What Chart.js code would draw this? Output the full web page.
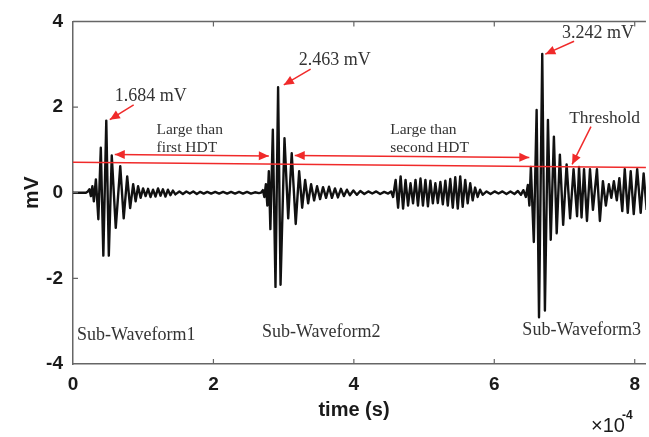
<!DOCTYPE html>
<html><head><meta charset="utf-8">
<script src="https://cdn.jsdelivr.net/npm/chart.js@4.4.1/dist/chart.umd.min.js"></script>
<style>html,body{margin:0;padding:0;background:#fff}#wrap{width:649px;height:437px}</style>
</head><body><div id="wrap"><canvas id="c" width="649" height="437"></canvas></div>
<script>
// time in units of 1e-4 s
const timeE4 = [
0, 0.099, 0.184,
0.212, 0.234, 0.255, 0.276, 0.297, 0.326, 0.361, 0.396, 0.432, 0.474, 0.510, 0.552, 0.609, 0.673, 0.722, 0.772, 0.814, 0.857, 0.892, 0.927, 0.963,
0.998, 1.034, 1.069, 1.104, 1.140, 1.175, 1.211, 1.246, 1.281, 1.317, 1.352, 1.388, 1.423, 1.458,
1.515, 1.565, 1.614, 1.664, 1.713, 1.763, 1.812, 1.862, 1.912, 1.968, 2.025, 2.081, 2.138, 2.195, 2.251, 2.308, 2.365, 2.421, 2.478, 2.535, 2.591, 2.648,
2.676, 2.704, 2.726, 2.747, 2.768, 2.789, 2.811, 2.846, 2.884, 2.921, 2.956, 3.012, 3.065, 3.115, 3.172, 3.221, 3.264, 3.306, 3.349, 3.391,
3.434, 3.476, 3.519, 3.561, 3.604, 3.646, 3.688, 3.731, 3.773, 3.816, 3.858, 3.901, 3.943, 3.993, 4.042, 4.092,
4.149, 4.205, 4.262, 4.319, 4.375, 4.432, 4.488, 4.531,
4.559, 4.595, 4.630, 4.666, 4.701, 4.736, 4.772, 4.807, 4.843, 4.878, 4.913, 4.949, 4.984, 5.019, 5.055, 5.090, 5.125, 5.161, 5.196, 5.232,
5.267, 5.303, 5.338, 5.373, 5.409, 5.444, 5.480, 5.515, 5.550, 5.586, 5.621, 5.657, 5.692, 5.727, 5.763, 5.798, 5.834,
5.890, 5.947, 6.004, 6.060, 6.117, 6.173, 6.230, 6.287, 6.336, 6.379, 6.414,
6.450, 6.478, 6.500, 6.521, 6.563, 6.603, 6.637, 6.683, 6.721, 6.764, 6.804, 6.849, 6.889, 6.934, 6.981, 7.030, 7.080, 7.129, 7.179,
7.207, 7.243, 7.278, 7.320, 7.363, 7.405, 7.462, 7.504, 7.547, 7.589, 7.632, 7.667, 7.703, 7.745, 7.781, 7.823, 7.858, 7.901, 7.943, 7.986,
8.035, 8.085, 8.127, 8.170
];
// signal in mV
const voltage = [
0, 0, 0,
0.03, 0.08, -0.08, 0.15, -0.2, 0.31, -0.62, 1.05, -1.47, 1.684, -1.47, 0.87, -0.82, 0.62, -0.6, 0.38, -0.36, 0.2, -0.2, 0.15, -0.12,
0.1, -0.08, 0.09, -0.1, 0.07, -0.09, 0.1, -0.07, 0.08, -0.09, 0.07, -0.06, 0.05, -0.04,
0.03, -0.03, 0.03, -0.02, 0.03, -0.03, 0.02, -0.02, 0.02, -0.02, 0.02, -0.02, 0.02, -0.02, 0.02, -0.02, 0.02, -0.02, 0.02, -0.02, 0.01, -0.01,
0, 0.06, -0.1, 0.2, -0.3, 0.5, -0.85, 1.47, -2.2, 2.463, -2.15, 1.27, -0.6, 0.92, -0.73, 0.5, -0.35, 0.3, -0.25, 0.2,
-0.18, 0.15, -0.15, 0.13, -0.12, 0.14, -0.12, 0.1, -0.11, 0.09, -0.08, 0.07, -0.06, 0.05, -0.05, 0.04,
-0.03, 0.03, -0.02, 0.03, -0.03, 0.02, -0.02, 0.03,
-0.1, 0.3, -0.35, 0.38, -0.37, 0.3, -0.3, 0.22, -0.25, 0.3, -0.3, 0.33, -0.3, 0.3, -0.32, 0.28, -0.25, 0.22, -0.24, 0.25,
-0.27, 0.28, -0.3, 0.32, -0.35, 0.36, -0.37, 0.38, -0.33, 0.3, -0.25, 0.22, -0.18, 0.12, -0.1, 0.07, -0.05,
0.03, -0.03, 0.03, -0.02, 0.03, -0.03, 0.03, -0.03, 0.04, -0.05, 0.06,
-0.1, 0.18, -0.3, 0.6, -1.15, 1.93, -2.91, 3.242, -2.75, 1.70, -1.1, 1.31, -0.95, 0.89, -0.75, 0.66, -0.6, 0.55, -0.55,
0.6, -0.58, 0.55, -0.66, 0.55, -0.4, 0.55, -0.66, 0.27, -0.3, 0.2, -0.12, 0.27, -0.18, 0.34, -0.43, 0.55, -0.47, 0.5, -0.5,
0.55, -0.47, 0.45, -0.4
];
const thresholdTime = [0, 8.16];
const thresholdLevel = [0.71, 0.59];
const xTicks = [0, 2, 4, 6, 8];
const yTicks = [-4, -2, 0, 2, 4];
const peakLabels = ['1.684 mV', '2.463 mV', '3.242 mV'];
const subLabels = ['Sub-Waveform1', 'Sub-Waveform2', 'Sub-Waveform3'];
const rangeLabels = [['Large than', 'first HDT'], ['Large than', 'second HDT']];
const thresholdLabel = 'Threshold';

// placement of annotations (data coordinates)
const RED = '#f02a2a';
const SERIF = '"Liberation Serif","Times New Roman",serif';
const SANS = '"Liberation Sans",Arial,sans-serif';
const textPlacement = [
  {t: peakLabels[0], x: 0.595, y: 2.261, size: 18},
  {t: peakLabels[1], x: 3.214, y: 3.096, size: 18},
  {t: peakLabels[2], x: 6.966, y: 3.722, size: 18},
  {t: rangeLabels[0][0], x: 1.189, y: 1.472, size: 15.5},
  {t: rangeLabels[0][1], x: 1.189, y: 1.055, size: 15.5},
  {t: rangeLabels[1][0], x: 4.517, y: 1.472, size: 15.5},
  {t: rangeLabels[1][1], x: 4.517, y: 1.055, size: 15.5},
  {t: thresholdLabel, x: 7.066, y: 1.725, size: 17.5},
  {t: subLabels[0], x: 0.057, y: -3.328, size: 18},
  {t: subLabels[1], x: 2.690, y: -3.258, size: 18},
  {t: subLabels[2], x: 6.400, y: -3.212, size: 18}
];
const arrowPlacement = [
  {x1: 0.864, y1: 2.052, x2: 0.524, y2: 1.704, both: false},
  {x1: 3.384, y1: 2.887, x2: 3.002, y2: 2.516, both: false},
  {x1: 7.136, y1: 3.536, x2: 6.726, y2: 3.235, both: false},
  {x1: 7.377, y1: 1.542, x2: 7.108, y2: 0.661, both: false},
  {x1: 0.595, y1: 0.893, x2: 2.789, y2: 0.858, both: true},
  {x1: 3.158, y1: 0.870, x2: 6.499, y2: 0.823, both: true}
];

function head(ctx, xa, ya, xb, yb) {
  const ang = Math.atan2(yb - ya, xb - xa);
  const L = 10, W = 4.5;
  ctx.beginPath();
  ctx.moveTo(xb, yb);
  ctx.lineTo(xb - L * Math.cos(ang) + W * Math.sin(ang), yb - L * Math.sin(ang) - W * Math.cos(ang));
  ctx.lineTo(xb - L * Math.cos(ang) - W * Math.sin(ang), yb - L * Math.sin(ang) + W * Math.cos(ang));
  ctx.closePath();
  ctx.fill();
}

const annot = {
  id: 'annot',
  afterDatasetsDraw(chart) {
    const {ctx, chartArea: a} = chart;
    const xs = chart.scales.x, ys = chart.scales.y;
    const X = v => xs.getPixelForValue(v), Y = v => ys.getPixelForValue(v);
    ctx.save();
    // top frame line and inward ticks
    ctx.strokeStyle = '#666'; ctx.lineWidth = 1.5;
    ctx.beginPath(); ctx.moveTo(a.left, a.top); ctx.lineTo(a.right, a.top); ctx.stroke();
    ctx.lineWidth = 1.2;
    ctx.beginPath();
    xTicks.slice(1).forEach(v => {
      const px = X(v);
      ctx.moveTo(px, a.bottom); ctx.lineTo(px, a.bottom - 5);
      ctx.moveTo(px, a.top); ctx.lineTo(px, a.top + 5);
    });
    yTicks.slice(1, -1).forEach(v => {
      const py = Y(v);
      ctx.moveTo(a.left, py); ctx.lineTo(a.left + 5, py);
    });
    ctx.stroke();
    // arrows
    ctx.strokeStyle = RED; ctx.fillStyle = RED; ctx.lineWidth = 1.5;
    arrowPlacement.forEach(ar => {
      const x1 = X(ar.x1), y1 = Y(ar.y1), x2 = X(ar.x2), y2 = Y(ar.y2);
      ctx.beginPath(); ctx.moveTo(x1, y1); ctx.lineTo(x2, y2); ctx.stroke();
      head(ctx, x1, y1, x2, y2);
      if (ar.both) head(ctx, x2, y2, x1, y1);
    });
    // texts
    ctx.fillStyle = '#333';
    ctx.textBaseline = 'middle'; ctx.textAlign = 'left';
    textPlacement.forEach(tp => {
      ctx.font = tp.size + 'px ' + SERIF;
      ctx.fillText(tp.t, X(tp.x), Y(tp.y));
    });
    // axis titles
    ctx.fillStyle = '#1a1a1a';
    ctx.font = 'bold 20px ' + SANS;
    ctx.textAlign = 'center';
    ctx.fillText('time (s)', 354, 410);
    ctx.save();
    ctx.translate(32, Y(0)); ctx.rotate(-Math.PI / 2);
    ctx.font = 'bold 21px ' + SANS;
    ctx.fillText('mV', 0, 0);
    ctx.restore();
    ctx.textAlign = 'left';
    ctx.font = '20px ' + SANS;
    ctx.fillText('\u00d710', 591, 426);
    ctx.font = 'bold 12px ' + SANS;
    ctx.fillText('-4', 622, 416);
    ctx.restore();
  }
};

new Chart(document.getElementById('c'), {
  type: 'scatter',
  data: {
    datasets: [
      {label: 'Threshold', data: thresholdTime.map((t, i) => ({x: t, y: thresholdLevel[i]})), showLine: true,
       borderColor: RED, borderWidth: 1.5, pointRadius: 0},
      {label: 'Waveform', data: timeE4.map((t, i) => ({x: t, y: voltage[i]})), showLine: true,
       borderColor: '#111', borderWidth: 2.4, pointRadius: 0, borderJoinStyle: 'round', tension: 0}
    ]
  },
  options: {
    responsive: false, animation: false, devicePixelRatio: 1,
    layout: {padding: {top: 19, right: 0, left: 0, bottom: 0}},
    plugins: {legend: {display: false}, tooltip: {enabled: false}},
    scales: {
      x: {
        type: 'linear', min: 0, max: 8.16,
        afterFit(s) { s.height = 73; },
        afterBuildTicks(s) { s.ticks = xTicks.map(v => ({value: v})); },
        ticks: {font: {family: SANS, size: 19, weight: 'bold'}, color: '#1a1a1a', padding: 9, maxRotation: 0, autoSkip: false},
        grid: {display: false, drawTicks: false},
        border: {display: true, color: '#666', width: 1.5}
      },
      y: {
        min: -4, max: 4,
        afterFit(s) { s.width = 73; },
        afterBuildTicks(s) { s.ticks = yTicks.map(v => ({value: v})); },
        ticks: {font: {family: SANS, size: 19, weight: 'bold'}, color: '#1a1a1a', padding: 10},
        grid: {display: false, drawTicks: false},
        border: {display: true, color: '#666', width: 1.5}
      }
    }
  },
  plugins: [annot]
});
</script>
</body></html>
